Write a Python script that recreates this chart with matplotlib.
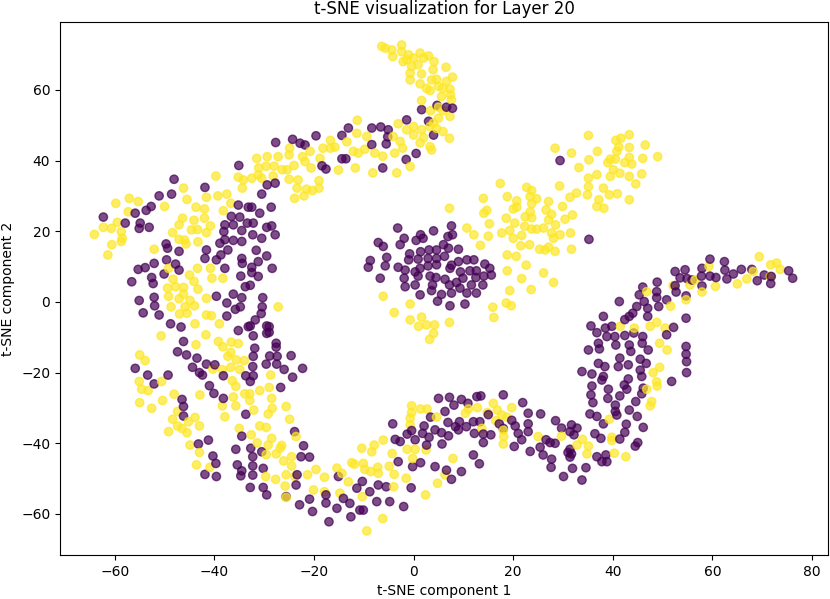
import numpy as np
import matplotlib
matplotlib.use("Agg")
import matplotlib.pyplot as plt

# t-SNE coordinates, label 0 (purple)
purple_top = [
    (-27.7, 45.1), (-24.3, 46.0), (-22.8, 44.9), (-21.8, 44.4), (-19.6, 47.0), (-18.4, 38.5),
    (-17.6, 37.6), (-35.1, 38.6), (1.6, 54.4), (4.7, 55.6), (6.6, 55.1), (7.8, 54.8), (3.0, 51.1),
    (4.0, 47.2), (-1.4, 51.5), (-13.1, 49.2), (-14.4, 47.1), (-8.4, 49.2), (-6.6, 49.5), (-5.1, 48.7),
    (-5.2, 46.7), (-5.5, 44.7), (-8.4, 44.5), (-14.4, 40.5), (-13.6, 40.5), (-1.5, 40.3), (0.5, 42.0),
    (-6.2, 37.9), (29.4, 40.0),
]
purple_left = [
    (-48.1, 34.7), (-41.9, 32.4), (-51.1, 30.0), (-48.6, 30.5), (-52.7, 27.0), (-53.7, 25.9),
    (-55.9, 25.1), (-57.9, 22.3), (-62.3, 24.0), (-54.9, 22.3), (-55.1, 20.8), (-53.1, 21.1),
    (-35.2, 27.4), (-33.2, 26.8), (-32.5, 26.8), (-30.5, 30.5), (-28.6, 26.8), (-29.4, 33.1),
    (-27.8, 33.6), (-36.6, 24.2), (-34.9, 24.0), (-30.9, 25.1), (-37.9, 21.8), (-36.2, 21.8),
    (-33.4, 22.3), (-32.2, 22.3), (-29.5, 21.1), (-28.5, 21.5), (-38.1, 19.9), (-34.5, 20.2),
    (-32.3, 19.0), (-30.5, 18.0), (-27.8, 19.0), (-37.9, 17.6), (-36.2, 17.4), (-34.5, 17.1),
    (-38.9, 16.6), (-49.7, 16.4), (-49.4, 15.2), (-47.1, 14.3), (-41.6, 14.7), (-37.3, 14.7),
    (-31.6, 14.6), (-38.7, 13.3), (-39.6, 11.9), (-41.9, 12.3), (-34.5, 12.3), (-34.4, 10.9),
    (-31.2, 11.4), (-29.5, 13.0), (-32.5, 9.8), (-28.4, 9.5), (-55.3, 9.2), (-53.9, 9.7),
    (-52.1, 10.9), (-49.6, 11.9), (-47.8, 10.7), (-47.1, 9.0), (-37.9, 9.5), (-52.6, 6.9),
    (-50.1, 7.9), (-56.6, 5.7), (-52.3, 5.2), (-34.7, 7.3), (-32.5, 8.3), (-31.2, 7.2),
    (-33.8, 4.3), (-32.8, 4.7), (-55.1, 0.4), (-52.1, 1.3), (-52.0, -1.1), (-51.1, -3.7),
    (-54.3, -3.1), (-39.6, 1.6), (-36.2, 2.2), (-34.5, 1.2), (-37.5, -0.3), (-35.8, -2.1),
    (-34.8, -1.4), (-30.3, 1.2), (-30.4, -1.4), (-30.6, -3.3), (-37.5, -4.0), (-48.8, -6.2),
    (-46.7, -7.1), (-32.8, -6.8), (-29.5, -6.8), (-29.5, -8.9), (-32.2, -9.6), (-27.6, -11.7),
    (-27.6, -12.8), (-46.2, -11.2), (-47.4, -14.1), (-45.6, -15.0), (-43.5, -15.9), (-31.9, -13.1),
    (-32.2, -15.4), (-28.9, -15.3), (-27.4, -15.4), (-24.6, -15.2), (-31.8, -5.1), (-33.2, -7.0),
    (-35.2, -8.1), (-29.0, -7.0), (-29.0, -8.6),
]
purple_center = [
    (-3.2, 20.9), (-7.1, 16.8), (-6.1, 15.7), (-2.7, 16.2), (-1.9, 18.0), (0.5, 17.4), (1.4, 19.0),
    (1.9, 18.0), (4.0, 20.1), (7.6, 21.5), (6.9, 18.5), (7.8, 19.0), (6.0, 16.2), (7.0, 15.2),
    (9.0, 14.9), (4.6, 14.7), (3.1, 14.7), (1.4, 14.2), (-0.8, 13.6), (-5.4, 12.6), (-8.7, 11.7),
    (-9.1, 9.8), (-5.7, 10.2), (-3.1, 9.8), (-1.0, 11.9), (0.9, 12.1), (2.9, 12.3), (4.6, 12.3),
    (6.2, 12.9), (1.3, 9.5), (2.9, 10.2), (4.6, 10.5), (0.3, 8.5), (-1.7, 9.0), (-1.9, 6.7),
    (-6.7, 6.7), (0.9, 7.3), (3.3, 7.3), (4.5, 6.9), (6.3, 6.4), (7.3, 9.5), (7.6, 10.4), (9.0, 11.4),
    (10.7, 11.9), (12.1, 11.9), (9.4, 8.5), (11.3, 8.8), (12.6, 8.8), (14.3, 10.7), (15.3, 9.5),
    (15.6, 7.6), (14.1, 7.3), (12.5, 6.9), (9.9, 6.7), (8.6, 5.5), (7.2, 4.8), (5.6, 2.1), (7.6, 2.5),
    (9.3, 3.9), (10.7, 2.5), (12.6, 2.5), (11.6, 4.8), (13.9, 4.8), (3.8, 4.8), (3.6, 3.2), (0.3, 4.8),
    (-1.7, 4.3), (1.3, 2.0), (4.8, 0.2), (7.3, -1.1), (10.3, -0.6),
]
purple_right = [
    (35.2, 17.7), (59.5, 12.1), (62.4, 11.4), (65.8, 9.2), (67.9, 9.2), (75.3, 8.8), (76.1, 6.7),
    (71.7, 5.2), (70.4, 7.6), (69.0, 6.0), (71.8, 7.2), (62.5, 9.0), (64.2, 7.9), (62.9, 6.5),
    (60.7, 6.9), (59.5, 7.3), (57.9, 9.5), (57.8, 7.3), (57.9, 4.5), (55.9, 6.2), (54.5, 9.1),
    (52.5, 8.6), (53.5, 6.8), (54.9, 6.6), (52.5, 4.6), (52.7, 2.8), (48.9, 5.6), (48.8, 2.9),
    (46.0, 4.2), (45.3, 2.0), (48.8, 1.2), (49.2, -1.3), (50.8, 0.6), (54.7, 1.7), (46.3, 0.1),
    (41.3, 0.1), (47.0, -1.8), (44.8, -1.3), (44.0, -3.2), (43.3, -4.1), (42.4, -5.0), (47.0, -4.1),
    (54.7, -4.6), (52.2, -7.2), (50.8, -9.3), (38.1, -4.1), (35.6, -6.8), (36.8, -8.7), (38.5, -7.4),
    (39.8, -6.9), (40.4, -9.8), (38.8, -9.8), (42.4, -9.5), (44.2, -8.8), (46.0, -9.8), (45.9, -11.7),
    (47.1, -13.6), (43.3, -12.2), (43.6, -14.0), (40.6, -12.2), (37.1, -11.7), (37.3, -13.3),
    (35.1, -13.6), (54.7, -12.6), (54.7, -14.8), (41.4, -15.9), (45.5, -16.2),
    (37.1, -17.4), (38.4, -18.3), (41.1, -18.3), (43.1, -17.8), (45.5, -19.3), (46.7, -17.4),
    (33.8, -19.7), (35.8, -20.4), (45.8, -21.1), (38.1, -21.1), (37.8, -22.1), (43.1, -21.8),
    (51.8, -22.5), (54.8, -20.0), (54.8, -16.9), (35.8, -23.8), (39.1, -24.7), (42.3, -23.5),
    (42.8, -24.7), (35.6, -26.3), (39.0, -27.3), (41.4, -26.6), (46.1, -24.4), (45.8, -26.0),
    (36.0, -28.5), (40.5, -29.2), (44.6, -28.2), (40.5, -31.0), (43.3, -30.6), (35.4, -31.7),
    (36.8, -32.4), (40.8, -32.0), (44.9, -32.4), (38.1, -34.5), (42.7, -34.6), (46.1, -35.5),
    (28.5, -33.6), (29.7, -35.7), (31.7, -34.8), (32.8, -35.7), (31.4, -36.7), (32.2, -37.6),
    (36.4, -37.3), (37.6, -38.6), (42.4, -36.9), (41.4, -38.8), (28.4, -40.0), (27.4, -39.8),
    (31.4, -41.7), (31.0, -42.6), (31.7, -43.0), (31.4, -43.9), (44.5, -40.8), (45.0, -39.8),
    (36.8, -43.8), (38.6, -43.3), (37.8, -45.2), (38.8, -45.2), (31.9, -47.1), (34.6, -46.9),
    (27.7, -44.5), (27.6, -46.8), (30.1, -49.4), (33.8, -50.4),
]
purple_bottom = [
    (5.0, -27.3), (7.2, -27.0), (9.6, -27.6), (8.1, -29.2), (10.9, -28.7), (12.7, -26.8), (13.5, -26.6),
    (18.0, -26.3), (21.9, -28.5), (6.3, -31.0), (3.4, -32.6), (6.9, -34.1), (9.2, -33.9), (5.6, -37.0),
    (4.3, -36.2), (2.1, -35.1), (1.8, -37.2), (-0.4, -36.4), (-1.3, -37.4), (-2.7, -39.5), (-3.7, -38.9),
    (-4.2, -34.5), (3.1, -38.3), (2.6, -40.5), (0.3, -39.0), (5.7, -40.2), (7.0, -37.9), (8.4, -35.3),
    (10.6, -35.3), (9.0, -36.2), (12.2, -37.2), (13.3, -33.9), (14.0, -39.8), (15.5, -37.6),
    (12.0, -43.3), (13.2, -45.8), (9.6, -48.0), (7.6, -50.2), (6.6, -47.6), (4.3, -46.6), (1.4, -45.5),
    (-0.2, -46.6), (-0.5, -52.6), (-3.1, -45.2), (-2.0, -57.9), (-4.8, -56.5), (-7.4, -56.5),
    (-10.1, -58.9), (-10.8, -58.9), (-12.6, -60.8), (-12.8, -57.0), (-15.4, -58.4), (-14.1, -55.6),
    (-11.4, -52.7), (-10.3, -50.8), (-8.8, -53.7), (-7.1, -51.8), (-5.5, -52.3), (-15.1, -49.4),
    (19.7, -33.5), (20.4, -35.1), (21.0, -37.2), (21.7, -39.0), (20.2, -40.9), (23.0, -31.5),
    (23.0, -34.5), (23.0, -36.7), (25.5, -31.7), (23.4, -42.3), (25.4, -41.1), (26.6, -39.0),
    (26.0, -43.3), (17.2, -34.5), (15.0, -31.9), (12.0, -33.9), (14.0, -37.4), (18.0, -35.8),
    (-55.9, -18.8), (-53.4, -20.7), (-52.1, -23.2), (-49.3, -20.7), (-44.4, -18.5), (-43.0, -20.0),
    (-42.4, -20.7), (-41.6, -17.6), (-38.2, -20.9), (-39.9, -17.8), (-32.3, -18.3), (-33.7, -20.9),
    (-32.2, -20.9), (-32.8, -22.5), (-29.6, -17.6), (-27.5, -17.6), (-26.0, -19.1), (-24.3, -21.3),
    (-22.3, -18.8), (-26.7, -24.2), (-41.0, -23.7), (-40.1, -25.9), (-38.2, -27.3), (-46.5, -27.6),
    (-46.2, -29.6), (-46.2, -32.3), (-33.7, -31.8), (-34.5, -38.0), (-43.2, -40.2), (-41.2, -39.1),
    (-40.3, -43.6), (-39.7, -45.7), (-41.9, -48.8), (-39.6, -49.4), (-35.7, -41.7), (-32.7, -41.4),
    (-32.3, -43.8), (-32.3, -46.4), (-32.3, -49.0), (-35.4, -46.1), (-34.5, -47.8), (-34.7, -49.2),
    (-30.5, -42.4), (-30.2, -47.1), (-32.8, -52.5), (-30.2, -52.5), (-29.5, -54.6), (-23.9, -36.7),
    (-22.1, -40.7), (-22.6, -43.8), (-20.9, -43.9), (-23.4, -48.9), (-23.6, -51.8), (-25.6, -55.1),
    (-22.9, -57.4), (-20.9, -55.8), (-20.3, -59.3), (-17.6, -56.9), (-17.6, -54.6), (-17.0, -62.2),
]

# label 1 (yellow)
yellow_top = [
    (-16.7, 45.7), (-24.9, 43.5), (-20.8, 42.6), (-18.2, 43.5), (-16.7, 43.5), (-15.8, 43.8),
    (-31.5, 40.6), (-29.4, 41.1), (-27.2, 41.1), (-25.0, 41.6), (-22.3, 41.1), (-21.8, 39.7),
    (-18.8, 40.6), (-20.6, 37.9), (-31.1, 37.9), (-29.6, 38.4), (-28.0, 38.4), (-26.4, 37.4),
    (-25.4, 37.4), (-24.0, 38.6),
    (-6.4, 72.3), (-5.7, 71.8), (-4.4, 71.3), (-2.4, 72.7), (-2.4, 70.8), (-4.2, 69.4), (-1.0, 69.9),
    (0.0, 69.0), (1.3, 70.4), (2.0, 69.0), (3.0, 69.6), (4.1, 68.0), (-2.1, 68.0), (-1.4, 68.5),
    (-0.4, 66.6), (0.9, 67.1), (-0.7, 64.7), (1.6, 64.5), (3.9, 65.7), (6.5, 66.4), (-0.7, 62.8),
    (3.6, 62.8), (4.6, 63.0), (6.6, 62.4), (7.8, 63.6), (1.3, 61.7), (2.6, 60.4), (3.3, 59.8),
    (5.0, 61.0), (5.9, 60.4), (7.3, 60.2), (7.4, 58.6), (5.6, 58.1), (7.6, 57.2), (1.6, 57.0),
    (3.4, 54.1), (5.0, 55.1), (5.9, 54.1), (7.3, 52.5), (5.0, 52.0), (4.0, 50.6), (3.3, 49.6),
    (4.6, 49.1), (5.9, 48.2), (7.2, 46.3), (1.6, 48.7), (0.0, 49.6), (0.0, 47.2), (1.3, 45.0),
    (3.3, 43.9), (3.6, 43.0), (2.0, 46.5), (-3.1, 50.4), (-4.1, 46.8), (-2.7, 45.4), (-2.2, 43.5),
    (-3.8, 42.1), (-0.7, 38.3), (-6.2, 41.2), (-7.8, 42.1), (-9.4, 46.8), (-9.8, 43.2), (-11.1, 42.1),
    (-12.1, 42.6), (-11.3, 51.4), (-11.4, 47.7), (-13.4, 45.3), (-11.7, 37.9), (-1.4, 48.7),
    (-15.1, 37.3), (-8.2, 36.5), (-3.4, 36.5),
]
yellow_right = [
    (35.1, 47.1), (28.4, 43.5), (31.7, 42.1), (36.9, 42.6), (40.6, 45.7), (41.6, 46.3), (43.3, 47.3),
    (46.5, 44.4), (43.3, 43.7), (41.2, 43.8), (40.8, 42.6), (39.5, 40.4), (40.5, 40.4), (43.3, 40.9),
    (46.0, 40.6), (49.0, 41.1), (39.0, 39.4), (42.4, 39.4), (43.8, 39.0), (35.2, 40.2), (33.2, 38.0),
    (40.1, 37.4), (36.8, 36.0), (39.5, 35.5), (41.4, 36.4), (43.3, 35.5), (45.8, 36.2), (44.6, 33.4),
    (35.1, 32.6), (38.1, 32.2), (32.7, 30.8), (31.4, 29.6), (34.9, 30.3), (39.3, 30.3), (40.9, 30.6),
    (43.3, 28.9), (37.2, 28.9), (29.9, 27.0), (36.8, 27.0), (38.2, 26.5), (30.4, 23.4), (31.9, 24.6),
    (28.5, 21.8), (27.7, 19.5), (29.4, 19.0), (31.5, 19.5), (28.1, 18.0), (28.4, 14.3), (31.7, 14.9),
    (28.1, 5.5), (29.3, 32.8), (35.1, 35.0),
    (69.4, 12.8), (71.7, 10.5), (72.9, 11.0), (73.6, 9.2), (68.2, 8.6), (66.9, 6.5), (65.0, 5.1),
    (60.6, 4.4), (59.3, 10.1), (56.5, 6.2), (55.5, 4.8), (52.1, 4.6), (57.9, 2.8), (46.8, 2.9),
    (54.7, 0.6), (51.6, -1.2), (48.8, -5.8), (50.5, -7.4), (47.5, -6.9), (41.5, -6.9), (44.3, -7.4),
    (49.4, -11.7), (50.9, -13.6), (71.6, 7.2),
    (48.1, -20.0), (49.4, -18.5), (48.8, -22.6), (48.9, -23.8), (46.8, -24.7), (47.8, -28.2),
    (47.5, -29.4), (39.3, -33.2), (39.8, -38.3), (39.8, -39.2), (33.9, -38.9), (35.1, -40.8),
    (32.8, -40.5), (29.7, -38.0), (34.8, -43.0), (40.3, -42.8), (42.6, -43.8),
]
yellow_center = [
    (7.2, 26.5), (-6.1, 1.6), (-0.7, -0.6), (-3.9, -3.0), (-0.7, -5.1), (1.6, -4.3), (1.0, -6.9),
    (2.6, -6.5), (4.2, -6.5), (4.0, -8.9), (3.2, -10.6), (7.2, -5.8), (15.9, -1.5), (16.1, -4.4),
    (18.6, -0.3), (19.6, -1.1), (19.3, 3.2), (18.8, 8.8), (18.8, 13.3), (21.7, 6.6), (23.6, 3.5),
    (26.1, 8.2), (22.6, 10.4), (20.6, 12.9), (10.7, 20.9), (12.1, 19.0), (13.4, 16.0), (15.0, 18.6),
    (15.2, 22.1), (14.0, 29.3), (14.7, 25.9), (14.1, 25.1), (17.4, 33.5), (18.8, 29.8), (17.7, 19.5),
    (18.6, 23.7), (19.3, 20.2), (20.0, 18.0), (20.3, 22.3), (20.0, 26.3), (20.7, 28.6), (20.7, 26.8),
    (21.7, 18.8), (21.5, 15.9), (23.3, 16.2), (22.3, 21.4), (22.7, 32.4), (23.7, 31.5), (24.7, 29.2),
    (23.4, 29.8), (23.7, 27.8), (23.4, 25.5), (22.4, 24.1), (23.7, 23.8), (23.7, 20.6), (24.7, 20.6),
    (26.1, 20.9), (27.1, 28.4), (26.6, 26.0), (27.7, 24.8), (27.1, 23.2), (25.3, 14.9), (27.1, 15.5),
    (26.4, 14.7),
]
yellow_left = [
    (-39.7, 35.6), (-35.2, 35.3), (-34.2, 34.5), (-32.5, 35.0), (-31.2, 35.9), (-30.5, 35.0),
    (-28.2, 35.6), (-25.0, 34.7), (-23.2, 34.5), (-23.4, 32.2), (-21.5, 31.9), (-20.3, 31.5),
    (-19.0, 32.2), (-19.0, 34.3), (-23.9, 29.3), (-22.0, 30.0), (-34.4, 32.2), (-46.2, 32.2),
    (-45.5, 29.0), (-41.6, 29.6), (-39.3, 30.0), (-37.5, 30.5), (-36.7, 27.9), (-59.8, 27.9),
    (-57.1, 29.3), (-55.3, 28.4), (-57.3, 25.5), (-50.0, 27.0), (-43.7, 26.8), (-42.0, 26.3),
    (-38.2, 25.8), (-59.5, 22.5), (-62.3, 21.1), (-60.7, 20.8), (-58.7, 19.9), (-64.1, 19.1),
    (-58.5, 18.0), (-58.7, 17.1), (-60.6, 16.2), (-61.4, 13.3), (-48.4, 19.6), (-46.4, 23.7),
    (-44.6, 20.4), (-43.4, 20.5), (-47.1, 21.8), (-44.1, 23.1), (-42.0, 23.7), (-41.6, 19.6),
    (-40.8, 21.5), (-47.1, 17.7), (-46.0, 17.5), (-45.7, 16.4), (-43.3, 17.0), (-52.1, 14.9),
    (-49.2, 9.5), (-48.3, 6.4), (-47.8, 4.3), (-46.2, 4.1), (-45.0, 7.6), (-44.1, 5.8), (-43.4, 9.5),
    (-40.8, 9.5), (-40.5, 6.7), (-38.3, 6.7), (-49.4, 3.9), (-49.2, 1.6), (-47.1, 0.9), (-46.2, 2.2),
    (-44.9, 0.4), (-43.3, 3.6), (-41.6, 1.0), (-48.7, -1.4), (-45.9, -1.4), (-47.0, -3.4),
    (-45.5, -3.2), (-44.0, -1.1), (-41.6, -3.7), (-40.6, -3.9), (-43.9, -6.2), (-39.0, -6.2),
    (-50.7, -9.6), (-41.7, -9.3), (-43.7, -12.1), (-39.2, -11.2), (-38.3, -12.7), (-36.6, -11.4),
    (-35.2, -11.8), (-36.7, -14.3), (-37.3, -15.4), (-35.6, -16.4), (-34.0, -16.6), (-55.0, -15.0),
    (-53.9, -16.6), (-27.2, -1.4),
]
yellow_bottom = [
    (-55.1, -22.5), (-54.6, -24.7), (-53.3, -25.1), (-55.0, -28.5), (-52.6, -30.1), (-50.6, -22.5),
    (-50.4, -27.9), (-48.1, -26.1), (-47.4, -31.0), (-48.4, -33.2), (-47.4, -35.1), (-46.5, -35.8),
    (-45.5, -37.0), (-49.2, -36.7), (-45.2, -33.9), (-43.9, -32.7), (-43.0, -35.1), (-44.9, -40.5),
    (-43.0, -42.6), (-43.6, -46.1), (-40.9, -46.8), (-40.3, -19.0), (-38.4, -19.2), (-36.7, -18.5),
    (-34.9, -19.1), (-36.4, -22.3), (-35.7, -23.9), (-42.9, -26.3), (-38.4, -29.4), (-37.9, -32.5),
    (-36.2, -26.9), (-35.7, -29.4), (-33.9, -26.0), (-32.9, -26.0), (-32.9, -27.9), (-32.1, -30.6),
    (-30.9, -25.1), (-28.7, -20.7), (-29.0, -24.2), (-28.5, -27.3), (-28.4, -30.1), (-29.2, -31.7),
    (-25.6, -29.6), (-24.9, -33.2), (-23.6, -38.1), (-30.9, -35.1), (-29.6, -35.5), (-35.0, -35.8),
    (-32.6, -37.6), (-31.4, -39.9), (-29.2, -40.5), (-28.5, -38.6), (-26.8, -41.4), (-26.5, -40.6),
    (-29.6, -43.2), (-27.6, -43.0), (-26.1, -45.0), (-24.5, -43.8), (-24.5, -46.4), (-23.8, -49.4),
    (-25.6, -48.9), (-29.7, -49.4), (-27.7, -50.2), (-25.8, -52.1), (-25.6, -55.3), (-21.3, -48.9),
    (-19.6, -47.4), (-17.9, -49.6), (-20.1, -53.2), (-17.9, -53.7),
    (-0.4, -29.4), (-0.4, -31.3), (-0.7, -32.9), (-0.7, -34.8), (1.4, -30.3), (2.7, -30.3),
    (4.6, -32.6), (10.4, -31.5), (11.0, -30.3), (12.8, -29.9), (14.8, -31.3), (16.0, -28.7),
    (16.8, -30.6), (16.5, -33.6), (17.7, -32.0), (18.7, -32.6), (19.7, -29.9), (13.7, -35.8),
    (18.0, -36.3), (18.1, -38.1), (18.0, -40.2), (25.0, -38.1), (0.3, -41.7), (-1.3, -41.7),
    (2.5, -41.9), (-0.2, -44.3), (-4.3, -42.9), (-6.1, -39.1), (-7.9, -40.5), (-8.4, -42.4),
    (-10.4, -41.4), (-11.9, -45.9), (-12.4, -45.5), (-10.1, -45.7), (-9.8, -47.4), (-8.6, -48.0),
    (-7.1, -48.5), (-7.2, -46.8), (-4.9, -46.5), (-3.9, -48.8), (-1.5, -49.9), (-4.0, -52.3),
    (-15.4, -47.0), (-14.4, -48.5), (-13.1, -50.9), (-14.8, -54.1), (-10.3, -55.1), (-6.2, -61.3),
    (-9.4, -64.8), (2.4, -54.6), (4.8, -51.3), (6.3, -48.9), (7.9, -44.3),
]

purple = np.array(purple_top + purple_left + purple_center + purple_right + purple_bottom)
yellow = np.array(yellow_top + yellow_right + yellow_center + yellow_left + yellow_bottom)

emb = np.vstack([purple, yellow])
labels = np.concatenate([np.zeros(len(purple)), np.ones(len(yellow))])

# mix the draw order so neither class sits fully on top
order = np.argsort(emb[:, 0], kind="stable")
emb = emb[order]
labels = labels[order]

fig, ax = plt.subplots(figsize=(8.3, 5.99), dpi=100)
fig.subplots_adjust(left=0.0723, right=0.9976, top=0.9633, bottom=0.0735)

ax.scatter(emb[:, 0], emb[:, 1], c=labels, cmap="viridis", alpha=0.7)
ax.set_xlim(-71, 83.2)
ax.set_ylim(-71.6, 79.2)
ax.set_title("t-SNE visualization for Layer 20")
ax.set_xlabel("t-SNE component 1")
ax.set_ylabel("t-SNE component 2")

fig.savefig("out.png", dpi=100)
